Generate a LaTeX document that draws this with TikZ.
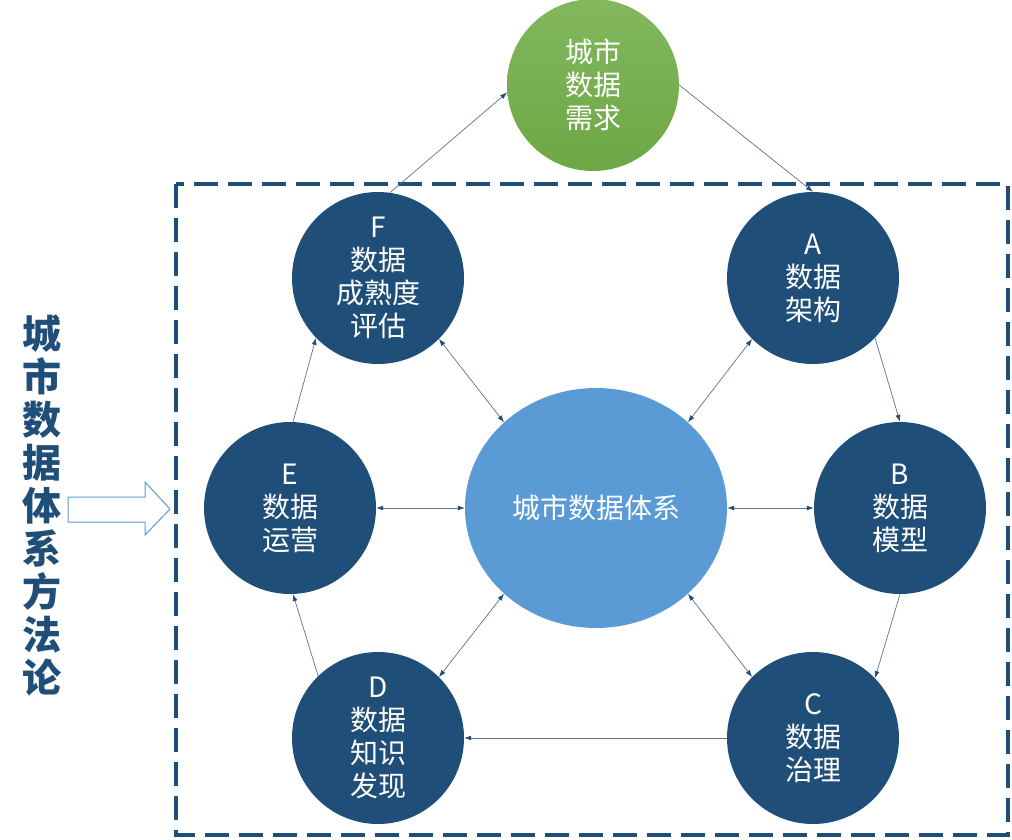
\documentclass[tikz,border=0pt]{standalone}
\usepackage{fontspec}
\newfontfamily\cjk{Noto Sans CJK SC}
\usetikzlibrary{shapes.geometric,arrows.meta}
\definecolor{deepblue}{HTML}{1F4E79}
\definecolor{lightblue}{HTML}{5B9BD5}
\definecolor{leaf}{HTML}{72AE48}
\definecolor{wire}{HTML}{5E7190}
\tikzset{
  method/.style={
    x=1pt, y=-1pt,
    every node/.style={font=\cjk\fontsize{28}{33}\selectfont, text=white, align=center, inner sep=0pt},
    stage/.style={circle, fill=deepblue, minimum size=172pt},
    core/.style={ellipse, fill=lightblue, minimum width=262pt, minimum height=240pt},
    need/.style={circle, minimum size=172pt, top color=leaf!88!white, bottom color=leaf!96!black},
    title/.style={font=\cjk\bfseries\fontsize{39}{43}\selectfont, text=deepblue},
    link/.style={draw=wire, line width=0.7pt, -{Latex[length=7pt,width=5pt,color=deepblue]}},
    both/.style={link, {Latex[length=7pt,width=5pt,color=deepblue]}-{Latex[length=7pt,width=5pt,color=deepblue]}}
  }
}

\begin{document}
\begin{tikzpicture}[method]
    \useasboundingbox (0,0) rectangle (1012,840);
    \draw[deepblue, line width=3.5pt, dash pattern=on 24pt off 10pt] (176,184) rectangle (1008,835);

    \node[need] (need) at (593,85) {城市\\数据\\需求};
    \node[core] (core) at (596,508) {城市数据体系};
    \node[stage] (A) at (813,278) {A\\数据\\架构};
    \node[stage] (B) at (900,508) {B\\数据\\模型};
    \node[stage] (C) at (813,738) {C\\数据\\治理};
    \node[stage] (D) at (378,738) {D\\数据\\知识\\发现};
    \node[stage] (E) at (290,508) {E\\数据\\运营};
    \node[stage] (F) at (378,278) {F\\数据\\成熟度\\评估};

    \draw[link] (F.82) -- (need.185);
    \draw[link] (need.0) -- (A.90);
    \draw[link] (A.-44) -- (B.90);
    \draw[link] (B.-90) -- (C.44);
    \draw[link] (C.180) -- (D.0);
    \draw[link] (D.134) -- (E.-88);
    \draw[link] (E.88) -- (F.224);

    \draw[both] (core.43) -- (A.225);
    \draw[both] (core.0) -- (B.180);
    \draw[both] (core.-43) -- (C.135);
    \draw[both] (core.223) -- (D.45);
    \draw[both] (core.180) -- (E.0);
    \draw[both] (core.137) -- (F.-45);

    \node[title] (method) at (42,505) {城\\市\\数\\据\\体\\系\\方\\法\\论};
    \draw[lightblue, line width=1pt, fill=white]
        (68,497) -- (145,497) -- (145,482) -- (170,509) -- (145,535) -- (145,522) -- (68,522) -- cycle;
\end{tikzpicture}
\end{document}
